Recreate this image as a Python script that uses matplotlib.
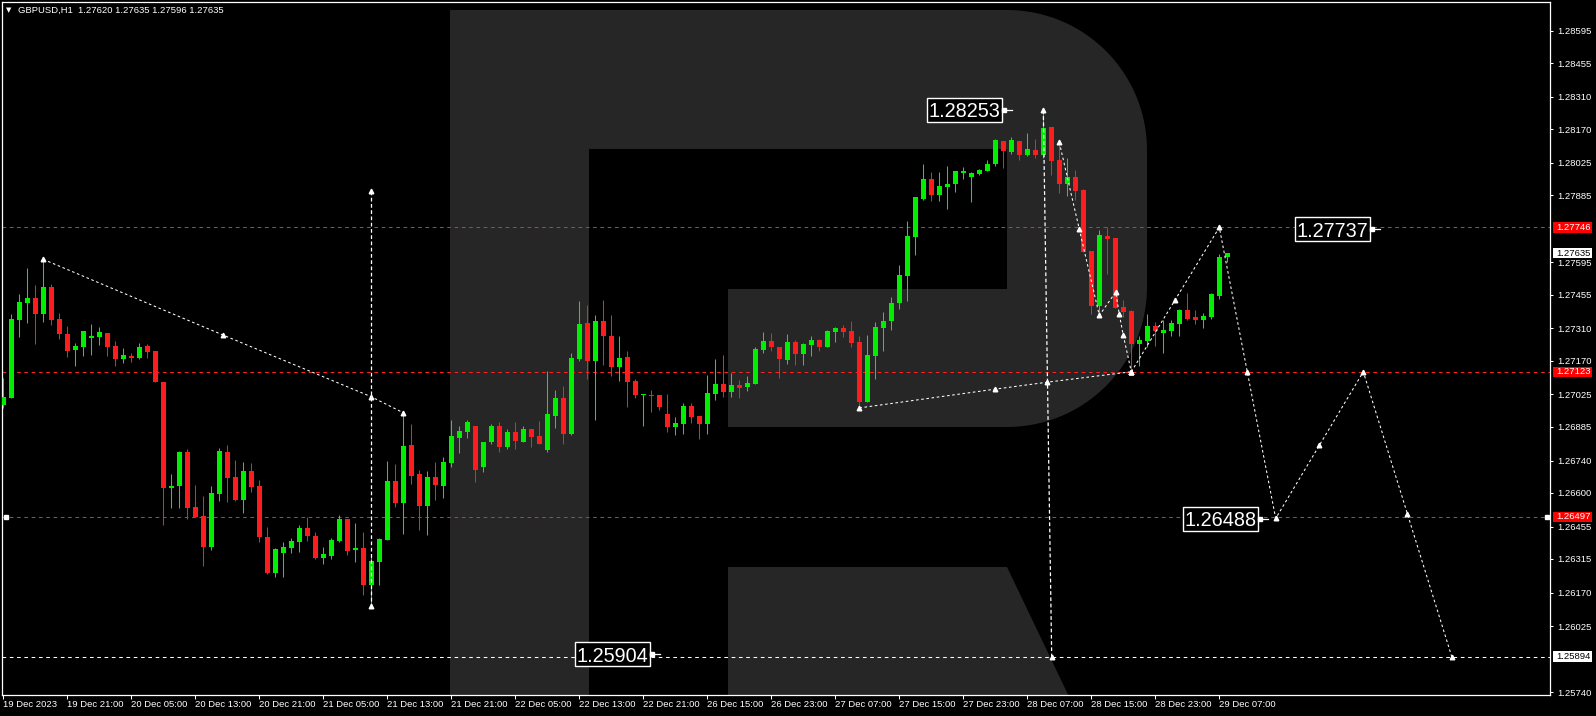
import matplotlib
matplotlib.use("Agg")
import matplotlib.pyplot as plt
import matplotlib.transforms as mtransforms
from matplotlib.patches import Rectangle, PathPatch
from matplotlib.path import Path
import numpy as np

plt.rcParams['font.family'] = ['Liberation Sans', 'DejaVu Sans']

# ---------------- data ----------------
header = "GBPUSD,H1  1.27620 1.27635 1.27596 1.27635"

opens = [1.26979, 1.27011, 1.27346, 1.27421, 1.27441, 1.27373, 1.27489, 1.27350, 1.27286, 1.27218,
         1.27231, 1.27270, 1.27274, 1.27290, 1.27234, 1.27179, 1.27191, 1.27183, 1.27234, 1.27212,
         1.27078, 1.26622, 1.26631, 1.26776, 1.26539, 1.26500, 1.26368, 1.26596, 1.26776, 1.26668,
         1.26570, 1.26694, 1.26630, 1.26410, 1.26254, 1.26342, 1.26363, 1.26389, 1.26448, 1.26414,
         1.26320, 1.26329, 1.26394, 1.26487, 1.26355, 1.26362, 1.26204, 1.26303, 1.26398, 1.26651,
         1.26557, 1.26807, 1.26681, 1.26545, 1.26668, 1.26631, 1.26730, 1.26838, 1.26863, 1.26889,
         1.26713, 1.26819, 1.26889, 1.26799, 1.26863, 1.26821, 1.26876, 1.26847, 1.26786, 1.26933,
         1.27009, 1.26855, 1.27178, 1.27333, 1.27170, 1.27342, 1.27277, 1.27145, 1.27186, 1.27083,
         1.27022, 1.27022, 1.27022, 1.26940, 1.26886, 1.26897, 1.26975, 1.26932, 1.26898, 1.27028,
         1.27070, 1.27037, 1.27066, 1.27058, 1.27071, 1.27218, 1.27255, 1.27230, 1.27175, 1.27251,
         1.27201, 1.27239, 1.27260, 1.27231, 1.27296, 1.27312, 1.27299, 1.27251, 1.26993, 1.27192,
         1.27312, 1.27341, 1.27418, 1.27537, 1.27706, 1.27868, 1.27955, 1.27887, 1.27922, 1.27934,
         1.27982, 1.27965, 1.27976, 1.27991, 1.28021, 1.28119, 1.28071, 1.28119, 1.28058, 1.28080,
         1.28058, 1.28179, 1.28037, 1.27934, 1.27962, 1.27909, 1.27644, 1.27408, 1.27710, 1.27701,
         1.27402, 1.27386, 1.27244, 1.27257, 1.27320, 1.27291, 1.27300, 1.27330, 1.27391, 1.27360,
         1.27347, 1.27360, 1.27451, 1.27620]
highs = [1.27096, 1.27372, 1.27458, 1.27571, 1.27497, 1.27608, 1.27502, 1.27375, 1.27319, 1.27247,
         1.27300, 1.27329, 1.27315, 1.27291, 1.27255, 1.27225, 1.27204, 1.27247, 1.27243, 1.27213,
         1.27079, 1.26681, 1.26781, 1.26789, 1.26634, 1.26586, 1.26630, 1.26794, 1.26807, 1.26742,
         1.26733, 1.26729, 1.26656, 1.26453, 1.26362, 1.26388, 1.26405, 1.26461, 1.26496, 1.26431,
         1.26366, 1.26405, 1.26504, 1.26488, 1.26470, 1.26431, 1.26328, 1.26405, 1.26737, 1.26724,
         1.26946, 1.26897, 1.26699, 1.26694, 1.26733, 1.26755, 1.26914, 1.26889, 1.26914, 1.26890,
         1.26822, 1.26897, 1.26906, 1.26876, 1.26906, 1.26889, 1.26877, 1.26910, 1.27126, 1.27044,
         1.27061, 1.27204, 1.27428, 1.27411, 1.27368, 1.27432, 1.27368, 1.27277, 1.27212, 1.27091,
         1.27028, 1.27044, 1.27023, 1.27027, 1.26927, 1.26988, 1.26988, 1.26933, 1.27109, 1.27178,
         1.27195, 1.27117, 1.27087, 1.27104, 1.27230, 1.27294, 1.27290, 1.27231, 1.27286, 1.27260,
         1.27247, 1.27277, 1.27264, 1.27303, 1.27316, 1.27325, 1.27342, 1.27277, 1.27281, 1.27337,
         1.27381, 1.27445, 1.27584, 1.27774, 1.27878, 1.28020, 1.27985, 1.27985, 1.28011, 1.27990,
         1.28007, 1.27985, 1.27998, 1.28037, 1.28127, 1.28120, 1.28136, 1.28120, 1.28153, 1.28127,
         1.28253, 1.28180, 1.28110, 1.28045, 1.27994, 1.27910, 1.27645, 1.27735, 1.27749, 1.27702,
         1.27434, 1.27391, 1.27278, 1.27372, 1.27339, 1.27347, 1.27347, 1.27395, 1.27464, 1.27391,
         1.27378, 1.27464, 1.27632, 1.27635]
lows = [1.26966, 1.27010, 1.27274, 1.27333, 1.27244, 1.27339, 1.27326, 1.27264, 1.27188, 1.27149,
        1.27192, 1.27196, 1.27239, 1.27192, 1.27149, 1.27162, 1.27166, 1.27179, 1.27183, 1.27077,
        1.26463, 1.26535, 1.26536, 1.26486, 1.26495, 1.26286, 1.26355, 1.26566, 1.26562, 1.26566,
        1.26514, 1.26605, 1.26389, 1.26250, 1.26238, 1.26238, 1.26342, 1.26346, 1.26394, 1.26316,
        1.26295, 1.26316, 1.26389, 1.26333, 1.26303, 1.26161, 1.26113, 1.26204, 1.26397, 1.26540,
        1.26424, 1.26640, 1.26441, 1.26419, 1.26570, 1.26579, 1.26713, 1.26773, 1.26838, 1.26648,
        1.26690, 1.26811, 1.26776, 1.26791, 1.26791, 1.26820, 1.26799, 1.26811, 1.26778, 1.26881,
        1.26812, 1.26851, 1.27170, 1.27093, 1.26916, 1.27153, 1.27106, 1.27084, 1.26972, 1.27011,
        1.26890, 1.26950, 1.26959, 1.26864, 1.26851, 1.26854, 1.26903, 1.26834, 1.26854, 1.27002,
        1.27015, 1.27015, 1.27011, 1.27041, 1.27070, 1.27205, 1.27214, 1.27097, 1.27157, 1.27153,
        1.27153, 1.27192, 1.27214, 1.27230, 1.27252, 1.27274, 1.27231, 1.26967, 1.26992, 1.27093,
        1.27214, 1.27304, 1.27395, 1.27429, 1.27628, 1.27865, 1.27861, 1.27861, 1.27827, 1.27900,
        1.27956, 1.27857, 1.27973, 1.27990, 1.28012, 1.28004, 1.28063, 1.28037, 1.28054, 1.28045,
        1.28045, 1.27973, 1.27896, 1.27883, 1.27865, 1.27640, 1.27373, 1.27373, 1.27546, 1.27398,
        1.27360, 1.27123, 1.27149, 1.27231, 1.27235, 1.27205, 1.27278, 1.27278, 1.27347, 1.27330,
        1.27313, 1.27352, 1.27438, 1.27596]
closes = [1.27014, 1.27350, 1.27424, 1.27441, 1.27373, 1.27489, 1.27347, 1.27287, 1.27214, 1.27234,
          1.27299, 1.27277, 1.27294, 1.27230, 1.27179, 1.27195, 1.27183, 1.27230, 1.27209, 1.27078,
          1.26622, 1.26630, 1.26776, 1.26536, 1.26496, 1.26368, 1.26599, 1.26781, 1.26665, 1.26570,
          1.26694, 1.26627, 1.26411, 1.26254, 1.26358, 1.26366, 1.26392, 1.26448, 1.26415, 1.26320,
          1.26336, 1.26397, 1.26487, 1.26351, 1.26362, 1.26204, 1.26306, 1.26401, 1.26651, 1.26557,
          1.26802, 1.26674, 1.26545, 1.26668, 1.26635, 1.26733, 1.26845, 1.26867, 1.26906, 1.26700,
          1.26819, 1.26889, 1.26799, 1.26863, 1.26825, 1.26876, 1.26842, 1.26812, 1.26940, 1.27009,
          1.26855, 1.27182, 1.27329, 1.27170, 1.27342, 1.27278, 1.27145, 1.27182, 1.27080, 1.27022,
          1.27027, 1.27019, 1.26972, 1.26886, 1.26902, 1.26975, 1.26929, 1.26898, 1.27031, 1.27070,
          1.27037, 1.27066, 1.27054, 1.27074, 1.27221, 1.27255, 1.27231, 1.27179, 1.27251, 1.27201,
          1.27243, 1.27260, 1.27231, 1.27299, 1.27312, 1.27296, 1.27248, 1.26993, 1.27195, 1.27316,
          1.27342, 1.27419, 1.27540, 1.27709, 1.27877, 1.27955, 1.27887, 1.27925, 1.27933, 1.27989,
          1.27985, 1.27981, 1.27994, 1.28020, 1.28123, 1.28077, 1.28123, 1.28058, 1.28084, 1.28058,
          1.28175, 1.28034, 1.27934, 1.27962, 1.27904, 1.27641, 1.27408, 1.27713, 1.27697, 1.27399,
          1.27382, 1.27244, 1.27261, 1.27320, 1.27300, 1.27304, 1.27333, 1.27391, 1.27352, 1.27347,
          1.27365, 1.27460, 1.27620, 1.27635]

time_labels = ["19 Dec 2023", "19 Dec 21:00", "20 Dec 05:00", "20 Dec 13:00", "20 Dec 21:00",
               "21 Dec 05:00", "21 Dec 13:00", "21 Dec 21:00", "22 Dec 05:00", "22 Dec 13:00",
               "22 Dec 21:00", "26 Dec 15:00", "26 Dec 23:00", "27 Dec 07:00", "27 Dec 15:00",
               "27 Dec 23:00", "28 Dec 07:00", "28 Dec 15:00", "28 Dec 23:00", "29 Dec 07:00"]
time_label_step = 8

price_ticks = [1.28595, 1.28455, 1.28310, 1.28170, 1.28025, 1.27885, 1.27595, 1.27455, 1.27310,
               1.27170, 1.27025, 1.26885, 1.26740, 1.26600, 1.26455, 1.26315, 1.26170, 1.26025, 1.25740]

red_levels = [1.27746, 1.27123, 1.26497]
target_level = 1.25894
last_price = 1.27635

# analysis drawings: (bar index, price) anchor points
trend_a_x = [5, 27.5, 46, 50]
trend_a_y = [1.27608, 1.27281, 1.27015, 1.26946]
vline_a_x = [46, 46]
vline_a_y = [1.27904, 1.26113]
trend_b_x = [107, 124, 130.5, 141]
trend_b_y = [1.26967, 1.27048, 1.27078, 1.27123]
vline_b_x = [130, 131.05]
vline_b_y = [1.28253, 1.25894]
wave_x = [132, 134.5, 137, 139.05, 139.5, 140, 141]
wave_y = [1.28113, 1.27738, 1.27366, 1.27467, 1.27371, 1.27280, 1.27123]
fc_x = [141, 152, 159.05, 170, 181.05]
fc_y = [1.27123, 1.27746, 1.26490, 1.27123, 1.25894]
fc_mid_x = [146.5, 155.5, 164.5, 175.5]
fc_mid_y = [1.27432, 1.27123, 1.26806, 1.26507]

box_labels = ["1.28253", "1.27737", "1.26488", "1.25904"]
box_x = [120.1, 166.15, 152.15, 76.1]
box_y = [1.28253, 1.27737, 1.26488, 1.25904]

# ---------------- layout ----------------
W, H = 1596, 716
PL, PR, PT, PB = 2, 1550, 2, 695     # plot frame in pixels
PITCH, X0 = 8.0, 3.3                 # pixels per bar, first bar centre
SCALE = 23170.0                      # pixels per price unit
REF_P, REF_Y = 1.28595, 30.7

GREEN = '#00ee00'
RED = '#ff1c1c'
WM = '#262626'
FS = 6.8

fig = plt.figure(figsize=(W / 100, H / 100), dpi=100, facecolor='black')
ax = fig.add_axes([PL / W, 1 - PB / H, (PR - PL) / W, (PB - PT) / H])
ax.set_facecolor('black')
ax.set_xlim((PL - X0) / PITCH, (PR - X0) / PITCH)
ax.set_ylim(REF_P - (PB - REF_Y) / SCALE, REF_P + (REF_Y - PT) / SCALE)

# watermark "R"
def arc(cx, cy, r, a0, a1, n=40):
    t = np.radians(np.linspace(a0, a1, n))
    return list(zip(cx + r * np.cos(t), cy + r * np.sin(t)))

def to_axes(pts):
    return [((px - PL) / (PR - PL), (PB - py) / (PB - PT)) for px, py in pts]

bowl = [(450, 10)] + arc(1007, 150, 140, -90, 0) + arc(1007, 287, 140, 0, 90) + \
       [(728, 427), (728, 289), (1007, 289), (1007, 149), (589, 149), (589, 705), (450, 705), (450, 10)]
leg = [(728, 567), (1007, 567), (1073, 705), (728, 705), (728, 567)]
for shape in (bowl, leg):
    verts = to_axes(shape)
    codes = [Path.MOVETO] + [Path.LINETO] * (len(verts) - 2) + [Path.CLOSEPOLY]
    ax.add_patch(PathPatch(Path(verts, codes), transform=ax.transAxes,
                           facecolor=WM, edgecolor='none', zorder=0.5))

# level lines
for lv in red_levels:
    ax.axhline(lv, color='#ff2020', lw=0.75, ls=(0, (3.5, 3.5)), zorder=1)
ax.axhline(target_level, color='white', lw=0.75, ls=(0, (3.5, 3.5)), zorder=1)
xl = ax.get_xlim()
ax.plot([xl[0] + 0.45, xl[1] - 0.35], [red_levels[2]] * 2, marker='s', ms=2.2,
        color='white', ls='none', zorder=2, clip_on=False)

# candles
x = np.arange(len(opens))
o = np.array(opens); c = np.array(closes)
cols = np.where(c >= o, GREEN, RED)
ax.vlines(x, lows, highs, colors=cols, lw=0.75, zorder=3)
ax.bar(x, np.maximum(np.abs(c - o), 1.3 / SCALE), bottom=np.minimum(o, c), width=0.63,
       color=cols, lw=0, zorder=4)

# analysis lines
dot = dict(color='white', lw=0.75, ls=(0, (2.5, 2.5)), zorder=6)
mk = dict(marker='^', ms=3.3, color='white', ls='none', zorder=7)
ax.plot(trend_a_x, trend_a_y, **dot); ax.plot(trend_a_x, trend_a_y, **mk)
ax.plot(vline_a_x, vline_a_y, color='white', lw=0.9, ls=(0, (3, 2)), zorder=6)
ax.plot(vline_a_x, vline_a_y, **mk)
ax.plot(trend_b_x, trend_b_y, **dot); ax.plot(trend_b_x, trend_b_y, **mk)
ax.plot(vline_b_x, vline_b_y, color='white', lw=0.9, ls=(0, (3, 2)), zorder=6)
ax.plot(vline_b_x, vline_b_y, **mk)
ax.plot(wave_x, wave_y, **dot); ax.plot(wave_x, wave_y, **mk)
ax.plot(fc_x, fc_y, **dot); ax.plot(fc_x, fc_y, **mk); ax.plot(fc_mid_x, fc_mid_y, **mk)

# boxed price labels
bw, bh = 75 / PITCH, 24 / SCALE
for t, bx, by in zip(box_labels, box_x, box_y):
    ax.add_patch(Rectangle((bx - bw / 2, by - bh / 2), bw, bh, facecolor='black',
                           edgecolor='white', lw=1.0, zorder=8))
    ax.text(bx, by, t, color='white', fontsize=14.3, ha='center', va='center_baseline', zorder=9)
    ax.plot([bx + bw / 2, bx + bw / 2 + 10 / PITCH], [by, by], color='white', lw=0.9, zorder=8)
    ax.plot([bx + bw / 2 + 0.25], [by], marker='s', ms=2.5, color='white', zorder=9)

# frame
for s in ax.spines.values():
    s.set_color('white'); s.set_linewidth(0.9)

# axes ticks
ax.yaxis.tick_right()
ax.set_yticks(price_ticks)
ax.set_yticklabels([f"{p:.5f}" for p in price_ticks])
ax.tick_params(axis='y', colors='white', labelcolor='white', labelsize=FS, length=2.5,
               width=0.75, pad=2.6)
xt = np.arange(len(time_labels)) * time_label_step
ax.set_xticks(xt)
ax.set_xticklabels(time_labels)
ax.tick_params(axis='x', colors='white', labelcolor='white', labelsize=FS, length=3,
               width=0.75, pad=0.8)
for lab in ax.get_xticklabels():
    lab.set_ha('left')

# right-axis price boxes
bt = mtransforms.blended_transform_factory(fig.transFigure, ax.transData)
def price_box(p, face, tc):
    fig.patches.append(Rectangle((1553 / W, p - 5.2 / SCALE), 39 / W, 10.4 / SCALE,
                                 transform=bt, facecolor=face, edgecolor='none', zorder=5))
    fig.text(1556 / W, p, f"{p:.5f}", transform=bt, color=tc, fontsize=FS,
             va='center', ha='left', zorder=6)
for lv in red_levels:
    price_box(lv, '#ff0000', 'white')
price_box(last_price, 'white', 'black')
price_box(target_level, 'white', 'black')

# header
fig.text(6 / W, 1 - 10.5 / H, "\u25BC", color='white', fontsize=5, va='center', ha='left',
         family=['DejaVu Sans'])
fig.text(18 / W, 1 - 10.5 / H, header, color='white', fontsize=FS, va='center', ha='left')

fig.savefig("out.png", dpi=100, facecolor='black')
